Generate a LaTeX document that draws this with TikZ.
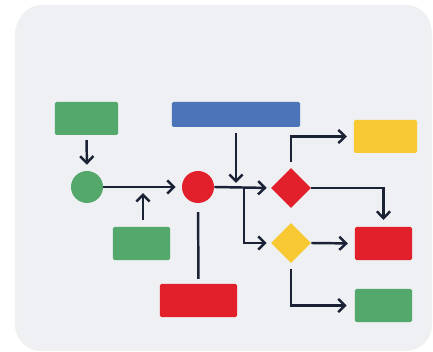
\documentclass[tikz,border=0pt]{standalone}
\usetikzlibrary{arrows.meta,shapes.geometric}
\definecolor{cardgray}{HTML}{EEF0F3}
\definecolor{flowgreen}{HTML}{55A86B}
\definecolor{flowblue}{HTML}{4B75B8}
\definecolor{flowred}{HTML}{E2202B}
\definecolor{flowyellow}{HTML}{F8C932}
\definecolor{linknavy}{HTML}{1B2236}
\tikzset{
  box/.style={rectangle, inner sep=0cm, rounded corners=1pt, minimum width=1.575cm, minimum height=0.825cm},
  dot/.style={circle, inner sep=0cm, minimum size=0.8cm},
  choice/.style={diamond, inner sep=0cm, minimum width=1.0cm, minimum height=1.0cm},
  link/.style={draw=linknavy, line width=1.75pt, -{Straight Barb[length=1.7mm, width=3.3mm]}},
  plainlink/.style={draw=linknavy, line width=1.75pt}
}
\begin{document}
\begin{tikzpicture}[x=0.025cm, y=-0.025cm]
\useasboundingbox (0,0) rectangle (433,352);
\fill[white] (0,0) rectangle (433,352);
% card
\fill[black, opacity=0.06, rounded corners=0.65cm] (15,8) rectangle (432,351);
\fill[cardgray, rounded corners=0.62cm] (17,5) rectangle (431,348);
% nodes
\node[box, fill=flowgreen] at (86.5,118.5) (gtop) {};
\node[box, fill=flowblue, minimum width=3.2cm, minimum height=0.625cm] at (236,114.5) (bbar) {};
\node[box, fill=flowyellow] at (385.5,136.5) (ytop) {};
\node[dot, fill=flowgreen] at (87,187) (gdot) {};
\node[dot, fill=flowred] at (198,187) (rdot) {};
\node[choice, fill=flowred] at (291,188) (rchoice) {};
\node[choice, fill=flowyellow] at (291,243) (ychoice) {};
\node[box, fill=flowgreen, minimum width=1.425cm] at (141.5,243.5) (glow) {};
\node[box, fill=flowred, minimum width=1.425cm] at (383.5,243.5) (rright) {};
\node[box, fill=flowred, minimum width=1.925cm] at (198.5,300.5) (rbot) {};
\node[box, fill=flowgreen, minimum width=1.425cm] at (383.5,305.5) (gright) {};
\coordinate (join) at (143,187);
\coordinate (split) at (244,187);
% connectors
\draw[link, shorten <=0.12cm, shorten >=0.15cm] (gtop.south) -- (gdot.north);
\draw[link, shorten >=0.15cm] (gdot.east) -- (rdot.west);
\draw[link, shorten <=0.17cm, shorten >=0.15cm] (glow.north -| join) -- (join);
\draw[link, shorten >=0.1cm] (rdot.east) -- (rchoice.west);
\draw[link, shorten <=0.15cm, shorten >=0.1cm] (bbar.south) -- (bbar.south |- rdot);
\draw[link, shorten >=0.1cm] (split) |- (ychoice.west);
\draw[plainlink, shorten <=0.22cm, shorten >=0.12cm] (rdot.south) -- (rbot.north);
\draw[link, shorten <=0.15cm, shorten >=0.17cm] (rchoice.north) |- (ytop.west);
\draw[link, shorten >=0.17cm] (rchoice.east) -| (rright.north);
\draw[link, shorten >=0.17cm] (ychoice.east) -- (rright.west);
\draw[link, shorten <=0.15cm, shorten >=0.2cm] (ychoice.south) |- (gright.west);
\end{tikzpicture}
\end{document}
